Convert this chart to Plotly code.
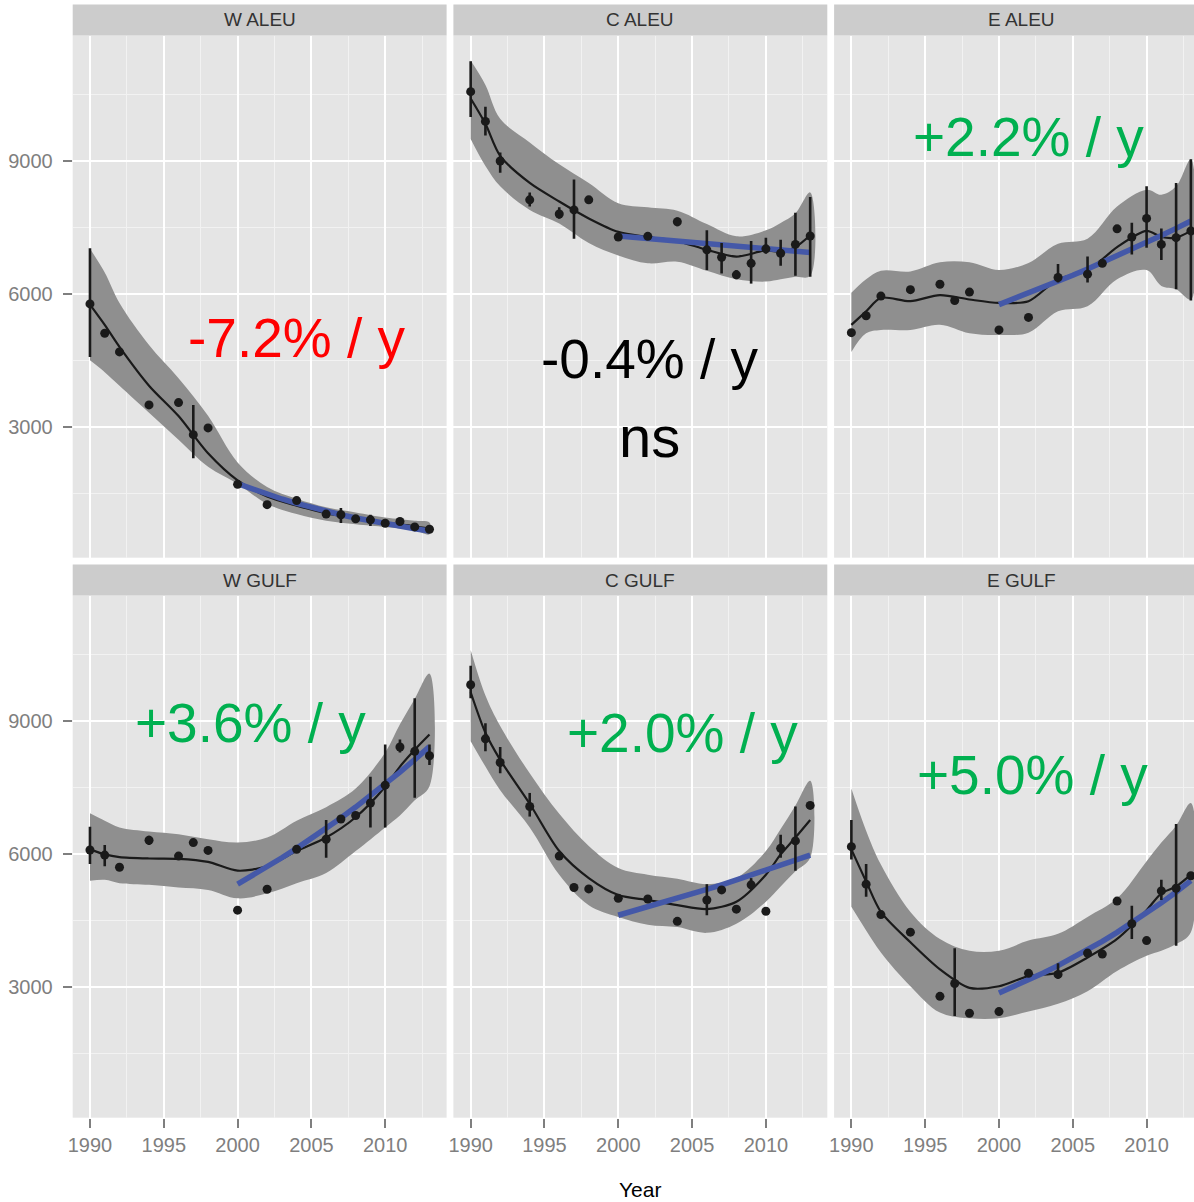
import numpy as np
import plotly.graph_objects as go

# ---------------------------------------------------------------- data
survey_years = [1990, 1991, 1992, 1994, 1996, 1997, 1998, 2000, 2002, 2004,
                2006, 2007, 2008, 2009, 2010, 2011, 2012, 2013]
grid_years = [1990, 1991, 1992, 1994, 1996, 1998, 2000, 2002, 2004, 2006,
              2008, 2010, 2011, 2012, 2013]
trend_years = list(range(2000, 2014))

# W ALEU
w_aleu_counts = [5775, 5112, 4693, 3496, 3549, 2825, 2978, 1705, 1247, 1339,
                 1034, 1019, 927, 904, 828, 866, 744, 691]
w_aleu_hi = [7033, None, None, None, None, 3496, None, None, None, None,
             None, 1171, None, 1019, None, None, None, None]
w_aleu_lo = [4579, None, None, None, None, 2292, None, None, None, None,
             None, 835, None, 767, None, None, None, None]
w_aleu_smooth = [5760, 5303, 4807, 3931, 3245, 2406, 1796, 1430, 1224, 1057,
                 942, 844, 800, 760, 706]
w_aleu_upper = [7018, 6484, 5798, 4850, 4100, 3250, 2200, 1644, 1377, 1187,
                1072, 958, 920, 882, 844]
w_aleu_lower = [4502, 4236, 3931, 3321, 2711, 2101, 1720, 1263, 1034, 882,
                805, 744, 710, 668, 577]

# C ALEU
c_aleu_counts = [10563, 9892, 9000, 8123, 7803, 7895, 8123, 7285, 7300, 7628,
                 6995, 6827, 6431, 6690, 7018, 6919, 7117, 7308]
c_aleu_hi = [11249, 10220, 9190, 8291, 7956, 8581, None, None, None, 7727,
             7437, 7148, 6538, 7193, 7270, 7224, 7834, 8184]
c_aleu_lo = [9991, 9572, 8733, 7971, 7696, 7247, None, None, None, 7529,
             6538, 6462, 6332, 6233, 6904, 6637, 6408, 6385]
c_aleu_smooth = [10410, 9839, 9114, 8504, 8085, 7704, 7399, 7285, 7193, 6995,
                 6843, 6980, 6950, 7056, 7323]
c_aleu_upper = [11264, 10715, 9953, 9419, 8924, 8504, 8047, 7956, 7879, 7575,
                7300, 7437, 7600, 7818, 8291]
c_aleu_lower = [9495, 8886, 8428, 7895, 7590, 7148, 6866, 6690, 6728, 6523,
                6332, 6279, 6330, 6385, 6408]

# E ALEU
e_aleu_counts = [5127, 5509, 5951, 6096, 6218, 5852, 6042, 5188, 5471, 6370,
                 6446, 6690, 7468, 7285, 7704, 7117, 7270, 7422]
e_aleu_hi = [None, None, None, None, None, None, None, None, None, 6675,
             6843, None, None, 7605, 8428, 7475, 8504, 9038]
e_aleu_lo = [None, None, None, None, None, None, None, None, None, 6256,
             6256, None, None, 6888, 7041, 6766, 6103, 5852]
e_aleu_smooth = [5303, 5608, 5913, 5836, 5974, 5875, 5798, 5836, 6332, 6523,
                 7056, 7422, 7285, 7270, 7422]
e_aleu_upper = [6027, 6332, 6523, 6508, 6713, 6713, 6538, 6700, 7132, 7247,
                7971, 8352, 8238, 8428, 9038]
e_aleu_lower = [4693, 5112, 5188, 5188, 5303, 5112, 5074, 5127, 5608, 5722,
                6332, 6538, 6180, 6103, 5875]

# W GULF
w_gulf_counts = [6088, 5974, 5699, 6309, 5951, 6256, 6080, 4731, 5204, 6103,
                 6332, 6789, 6866, 7148, 7552, 8413, 8314, 8215]
w_gulf_hi = [6614, 6202, None, 6408, None, None, None, None, None, None,
             6767, None, None, 7742, 8466, 8581, 9511, 8466]
w_gulf_lo = [5775, 5722, None, 6202, None, None, None, None, None, None,
             5913, None, None, 6599, 6599, 8291, 7270, 8009]
w_gulf_smooth = [6103, 5989, 5928, 5897, 5890, 5821, 5623, 5722, 6065, 6370,
                 6827, 7514, 7971, 8352, 8695]
w_gulf_upper = [6919, 6751, 6599, 6508, 6446, 6332, 6256, 6370, 6751, 7056,
                7475, 8291, 8924, 9495, 10067]
w_gulf_lower = [5394, 5417, 5341, 5303, 5242, 5188, 4998, 5112, 5341, 5570,
                6065, 6599, 6866, 7209, 7529]

# C GULF
c_gulf_counts = [9816, 8596, 8062, 7071, 5951, 5242, 5211, 4998, 4983, 4480,
                 4960, 5188, 4754, 5303, 4708, 6126, 6294, 7094]
c_gulf_hi = [10243, 8947, 8413, 7376, None, None, None, None, None, None,
             5318, None, None, 5455, None, 6431, 7071, None]
c_gulf_lo = [9511, 8314, 7818, 6843, None, None, None, None, None, None,
             4617, None, None, 5188, None, 5913, 5623, None]
c_gulf_smooth = [9648, 8733, 8123, 7132, 6065, 5455, 5074, 4960, 4845, 4754,
                 4922, 5531, 5989, 6370, 6766]
c_gulf_upper = [10601, 9572, 8886, 7818, 6904, 6180, 5684, 5532, 5440, 5318,
                5455, 6065, 6561, 7094, 7651]
c_gulf_lower = [8543, 7971, 7437, 6599, 5532, 4845, 4579, 4403, 4350, 4220,
                4426, 4922, 5265, 5608, 5913]

# E GULF
e_gulf_counts = [6164, 5318, 4632, 4236, 2787, 3077, 2406, 2444, 3306, 3283,
                 3763, 3740, 4937, 4426, 4045, 5166, 5227, 5509]
e_gulf_hi = [6766, 5775, None, None, None, 3870, None, None, None, 3534,
             None, None, None, 4830, None, 5417, 6675, None]
e_gulf_lo = [5875, 5036, None, None, None, 2345, None, None, None, 3184,
             None, None, None, 4083, None, 4960, 3931, None]
e_gulf_smooth = [6103, 5379, 4693, 4007, 3397, 2978, 3016, 3245, 3321, 3664,
                 4083, 4731, 5112, 5265, 5532]
e_gulf_upper = [7475, 6523, 5760, 4693, 4083, 3816, 3816, 4045, 4198, 4579,
                4998, 5836, 6256, 6637, 7148]
e_gulf_lower = [4807, 4274, 3778, 3016, 2421, 2292, 2292, 2444, 2619, 2902,
                3359, 3702, 3816, 3969, 4236]

# trend since 2000: fitted level in 2000 and annual rate (% / y)
regions = ["W ALEU", "C ALEU", "E ALEU", "W GULF", "C GULF", "E GULF"]
trend_start = [1720, 7308, 5760, 5318, 4617, 2863]
trend_rate = [-7.2, -0.4, 2.2, 3.6, 2.0, 5.0]
rate_labels = ["-7.2% / y", "-0.4% / y", "+2.2% / y",
               "+3.6% / y", "+2.0% / y", "+5.0% / y"]
rate_colors = ["#FF0000", "#000000", "#00B050", "#00B050", "#00B050", "#00B050"]

panels = [
    (w_aleu_counts, w_aleu_hi, w_aleu_lo, w_aleu_smooth, w_aleu_upper, w_aleu_lower),
    (c_aleu_counts, c_aleu_hi, c_aleu_lo, c_aleu_smooth, c_aleu_upper, c_aleu_lower),
    (e_aleu_counts, e_aleu_hi, e_aleu_lo, e_aleu_smooth, e_aleu_upper, e_aleu_lower),
    (w_gulf_counts, w_gulf_hi, w_gulf_lo, w_gulf_smooth, w_gulf_upper, w_gulf_lower),
    (c_gulf_counts, c_gulf_hi, c_gulf_lo, c_gulf_smooth, c_gulf_upper, c_gulf_lower),
    (e_gulf_counts, e_gulf_hi, e_gulf_lo, e_gulf_smooth, e_gulf_upper, e_gulf_lower),
]

# ---------------------------------------------------------------- layout
W, H = 1194, 1202
col_left = [72.7, 453.4, 834.1]
panel_w = 373.9
row_top = [35.5, 595.5]
panel_h = 522.2
strip_h = 31.0
x_lo, x_span = 1988.83, 25.33
y_range = [50, 11830]

FONT = "Liberation Sans, Arial, Helvetica, sans-serif"
INK = "#1a1a1a"


def fx(p):
    return p / W


def fy(p):
    return 1 - p / H


fig = go.Figure()
layout = dict(
    width=W, height=H,
    margin=dict(l=0, r=0, t=0, b=0, autoexpand=False),
    paper_bgcolor="white",
    plot_bgcolor="#E5E5E5",
    showlegend=False,
    shapes=[], annotations=[],
)

for i, (counts, hi, lo, smooth, upper, lower) in enumerate(panels):
    r, c = divmod(i, 3)
    k = i + 1
    xa, ya = f"x{k}", f"y{k}"
    left = col_left[c]
    right = min(left + panel_w, W)
    top = row_top[r]
    bottom = top + panel_h
    x_hi = x_lo + (right - left) / panel_w * x_span

    # confidence ribbon
    fig.add_trace(go.Scatter(
        x=grid_years + grid_years[::-1], y=upper + lower[::-1],
        fill="toself", fillcolor="#8F8F8F", line=dict(width=0, shape="spline"),
        mode="lines", hoverinfo="skip", xaxis=xa, yaxis=ya))
    # smoothed index
    fig.add_trace(go.Scatter(
        x=grid_years, y=smooth, mode="lines",
        line=dict(color=INK, width=2.2, shape="spline", smoothing=0.8),
        xaxis=xa, yaxis=ya))
    # log-linear trend since 2000
    trend = [trend_start[i] * (1 + trend_rate[i] / 100) ** (t - 2000) for t in trend_years]
    fig.add_trace(go.Scatter(
        x=trend_years, y=trend, mode="lines",
        line=dict(color="#4458A8", width=5.5),
        xaxis=xa, yaxis=ya))
    # survey counts with intervals
    plus = [(h - v) if h is not None else 0 for h, v in zip(hi, counts)]
    minus = [(v - l) if l is not None else 0 for l, v in zip(lo, counts)]
    fig.add_trace(go.Scatter(
        x=survey_years, y=counts, mode="markers",
        marker=dict(color=INK, size=9),
        error_y=dict(type="data", symmetric=False, array=plus, arrayminus=minus,
                     width=0, thickness=2.6, color=INK),
        xaxis=xa, yaxis=ya))

    axis_common = dict(
        showline=False, zeroline=False, automargin=False,
        showgrid=True, gridcolor="white", gridwidth=2.2,
        tickcolor="#7F7F7F", ticklen=9, tickwidth=2,
        tickfont=dict(family=FONT, size=20, color="#7F7F7F"),
    )
    layout[f"xaxis{k}"] = dict(
        axis_common,
        domain=[fx(left), fx(right)], anchor=ya, range=[x_lo, x_hi],
        tickvals=[1990, 1995, 2000, 2005, 2010],
        ticks="outside" if r == 1 else "",
        showticklabels=(r == 1), ticklabelstandoff=0,
        minor=dict(tickvals=[1992.5, 1997.5, 2002.5, 2007.5, 2012.5],
                   showgrid=True, gridcolor="#F2F2F2", gridwidth=1, ticks=""),
    )
    layout[f"yaxis{k}"] = dict(
        axis_common,
        domain=[fy(bottom), fy(top)], anchor=xa, range=y_range,
        tickvals=[3000, 6000, 9000],
        ticks="outside" if c == 0 else "",
        showticklabels=(c == 0), ticklabelstandoff=6,
        minor=dict(tickvals=[1500, 4500, 7500, 10500],
                   showgrid=True, gridcolor="#F2F2F2", gridwidth=1, ticks=""),
    )

    # facet strip
    layout["shapes"].append(dict(
        type="rect", xref="paper", yref="paper",
        x0=fx(left), x1=fx(right), y0=fy(top), y1=fy(top - strip_h),
        fillcolor="#CCCCCC", line=dict(width=0), layer="below"))
    layout["annotations"].append(dict(
        text=regions[i], xref="paper", yref="paper",
        x=fx(left + panel_w / 2), y=fy(top - strip_h / 2),
        xanchor="center", yanchor="middle", showarrow=False,
        font=dict(family=FONT, size=19, color="#333333")))

# rate labels (centre positions in pixels)
label_pos = [(297, 338), (650, 359), (1028, 137), (250, 723), (682, 733), (1032, 775)]
for i, (px, py) in enumerate(label_pos):
    layout["annotations"].append(dict(
        text=rate_labels[i], xref="paper", yref="paper",
        x=fx(px), y=fy(py), xanchor="center", yanchor="middle", showarrow=False,
        font=dict(family=FONT, size=55, color=rate_colors[i])))
layout["annotations"].append(dict(
    text="ns", xref="paper", yref="paper", x=fx(650), y=fy(436),
    xanchor="center", yanchor="middle", showarrow=False,
    font=dict(family=FONT, size=58, color="#000000")))

# x-axis title
layout["annotations"].append(dict(
    text="Year", xref="paper", yref="paper", x=fx(640.4), y=fy(1189),
    xanchor="center", yanchor="middle", showarrow=False,
    font=dict(family=FONT, size=21, color="#000000")))

fig.update_layout(**layout)
fig.write_html("out.html")
